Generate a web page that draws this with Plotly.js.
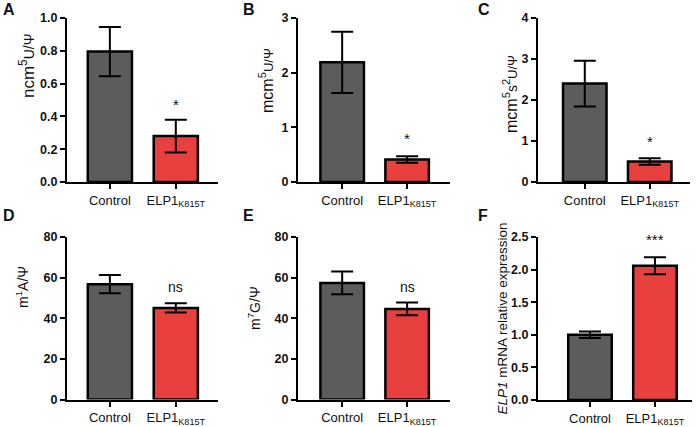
<!DOCTYPE html>
<html>
<head>
<meta charset="utf-8">
<script src="https://cdn.plot.ly/plotly-3.0.1.min.js"></script>
<style>html,body{margin:0;padding:0;background:#fff}#chart{width:699px;height:427px}</style>
</head>
<body>
<div id="chart"></div>
<script>
// ---- data ----
const categories = ["Control", "ELP1<sub>K815T</sub>"];
const ncm5U      = [0.795, 0.28];
const ncm5U_err  = [0.15, 0.10];
const mcm5U      = [2.19, 0.41];
const mcm5U_err  = [0.56, 0.06];
const mcm5s2U     = [2.40, 0.50];
const mcm5s2U_err = [0.56, 0.08];
const m1A        = [56.8, 45.1];
const m1A_err    = [4.5, 2.3];
const m7G        = [57.4, 44.6];
const m7G_err    = [5.6, 3.1];
const elp1Expr   = [1.00, 2.06];
const elp1Expr_err = [0.05, 0.13];
const sigLabels  = ["*", "*", "*", "ns", "ns", "***"];
const sigY       = [0.47, 0.80, 1.00, 55.5, 55.5, 2.46];
const panelLetters = ["A", "B", "C", "D", "E", "F"];
const yTitles = [
  "ncm<sup>5</sup><span style='font-size:14px'>U/Ψ</span>",
  "mcm<sup>5</sup><span style='font-size:13px'>U/Ψ</span>",
  "mcm<sup>5</sup><span style='font-size:14px'>s</span><sup>2</sup><span style='font-size:13px'>U/Ψ</span>",
  "m<sup>1</sup>A/Ψ",
  "m<sup>7</sup>G/Ψ",
  "<i>ELP1</i> mRNA relative expression"
];
const yRanges = [[0, 1], [0, 3], [0, 4], [0, 80], [0, 80], [0, 2.5]];
const yDticks = [0.2, 1, 1, 20, 20, 0.5];
const yFormats = [".1f", "d", "d", "d", "d", ".1f"];

const series = [
  [ncm5U, ncm5U_err], [mcm5U, mcm5U_err], [mcm5s2U, mcm5s2U_err],
  [m1A, m1A_err], [m7G, m7G_err], [elp1Expr, elp1Expr_err]
];

// ---- layout geometry ----
const W = 699, H = 427;
const xPix = [[67, 218], [298, 450], [538, 690], [67, 218], [298, 450], [538, 692]];
const yPix = [[18, 182], [18, 182], [18, 182], [237, 399.5], [237, 399.5], [237, 400]];
const xRanges = [[-0.65, 1.64], [-0.68, 1.66], [-0.72, 1.62], [-0.65, 1.64], [-0.68, 1.66], [-0.80, 1.57]];
const letterPos = [[1, 9], [241, 9], [476, 9], [1, 215], [241, 215], [476, 215]];
const titlePos = [[27, 66], [266, 81], [510, 94], [22, 287], [254, 308], null];
const titleSize = [17, 16, 16, 14, 14, 13.5];

const barColors = ["#5b5d5c", "#e8403f"];
const fontFam = "Liberation Sans, Arial, sans-serif";

const data = [];
const layout = {
  width: W, height: H,
  margin: {l: 0, r: 0, t: 0, b: 0},
  paper_bgcolor: "#fff", plot_bgcolor: "#fff",
  showlegend: false,
  font: {family: fontFam, color: "#111"},
  annotations: []
};

series.forEach((s, i) => {
  const n = i + 1;
  const xa = "x" + (n === 1 ? "" : n), ya = "y" + (n === 1 ? "" : n);
  data.push({
    type: "bar", x: categories, y: s[0], xaxis: xa, yaxis: ya,
    width: 0.67,
    marker: {color: barColors, line: {color: "#000", width: 2.5}},
    error_y: {type: "data", array: s[1], visible: true, color: "#000", thickness: 2, width: 11},
    hoverinfo: "skip"
  });
  const xk = "xaxis" + (n === 1 ? "" : n), yk = "yaxis" + (n === 1 ? "" : n);
  layout[xk] = {
    domain: [xPix[i][0] / W, xPix[i][1] / W],
    anchor: ya, type: "category", range: xRanges[i],
    showline: true, linecolor: "#000", linewidth: 2,
    ticks: "outside", ticklen: 5, tickwidth: 2, tickcolor: "#000",
    tickfont: {family: fontFam, size: 13, color: "#111"},
    showgrid: false, zeroline: false, fixedrange: true
  };
  layout[yk] = {
    domain: [1 - yPix[i][1] / H, 1 - yPix[i][0] / H],
    anchor: xa, range: yRanges[i], dtick: yDticks[i], tick0: 0,
    tickformat: yFormats[i],
    showline: true, linecolor: "#000", linewidth: 2,
    ticks: "outside", ticklen: 5, tickwidth: 2, tickcolor: "#000",
    tickfont: {family: fontFam, size: 12.5, color: "#111", weight: "bold"},
    showgrid: false, zeroline: false, fixedrange: true
  };
  if (titlePos[i]) {
    // y-axis title placed as rotated text, positioned as in the reference
    layout.annotations.push({
      xref: "paper", yref: "paper", x: titlePos[i][0] / W, y: 1 - titlePos[i][1] / H,
      xanchor: "center", yanchor: "middle", textangle: -90, text: yTitles[i],
      showarrow: false, font: {family: fontFam, size: titleSize[i], color: "#111"}
    });
  } else {
    layout[yk].title = {text: yTitles[i], font: {family: fontFam, size: titleSize[i], color: "#111"}, standoff: 0};
  }
  layout.annotations.push({
    xref: xa, yref: ya, x: categories[1], y: sigY[i], text: sigLabels[i],
    showarrow: false, font: {family: fontFam, size: sigLabels[i] === "ns" ? 14 : 15, color: "#111"},
    yanchor: "middle"
  });
  layout.annotations.push({
    xref: "paper", yref: "paper", x: letterPos[i][0] / W, y: 1 - letterPos[i][1] / H,
    xanchor: "left", yanchor: "middle", text: "<b>" + panelLetters[i] + "</b>",
    showarrow: false, font: {family: fontFam, size: 16, color: "#111"}
  });
});

Plotly.newPlot("chart", data, layout, {displayModeBar: false, staticPlot: true});
</script>
</body>
</html>
